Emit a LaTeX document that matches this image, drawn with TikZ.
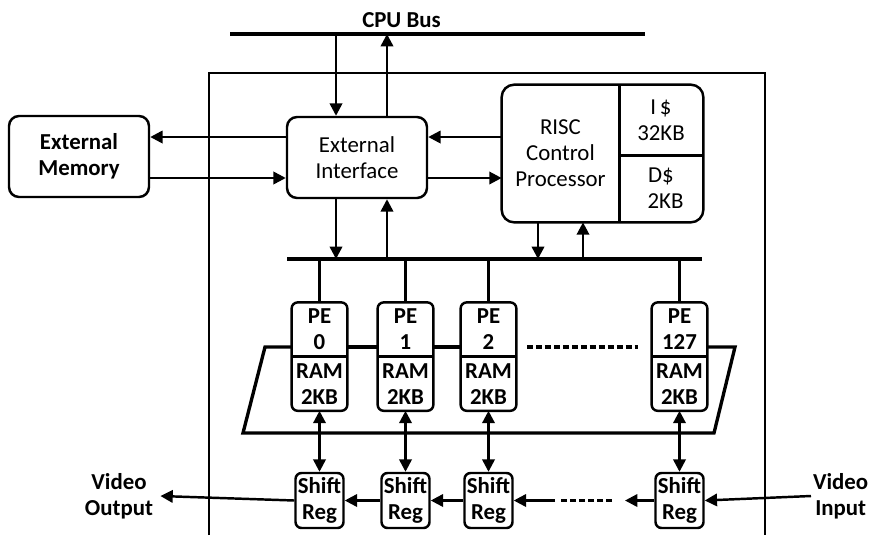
\documentclass[tikz,border=0pt]{standalone}
\usepackage{fontspec}
\setmainfont{Carlito}
\usetikzlibrary{positioning, arrows.meta}

\begin{document}
\begin{tikzpicture}[
    x=0.02cm, y=-0.02cm,
    txt/.style={font=\fontsize{13}{14.8}\selectfont, align=center, inner sep=1pt},
    btxt/.style={txt, font=\fontsize{13}{14.8}\selectfont\bfseries},
    blk/.style={draw, line width=1.4pt, rounded corners=0.2cm,
                minimum width=2.8cm, minimum height=1.62cm},
    pepart/.style={btxt, minimum width=1.1cm, minimum height=1.07cm},
    srg/.style={btxt, draw, line width=1.4pt, rounded corners=0.12cm,
                minimum width=0.96cm, minimum height=1.1cm},
    outl/.style={line width=1.4pt, rounded corners=0.12cm},
    arr/.style={-{Triangle[length=7pt, width=7pt]}, line width=1.4pt},
    darr/.style={{Triangle[length=7pt, width=7pt]}-{Triangle[length=7pt, width=7pt]}, line width=1.4pt},
    wire/.style={line width=1.4pt},
    busln/.style={line width=1.9pt},
    trap/.style={line width=1.9pt},
    dashln/.style={line width=1.9pt, dash pattern=on 3.4pt off 1.7pt},
]
\useasboundingbox (0,0) rectangle (869,535);

% ===== CHIP OUTLINE =====
\draw[line width=1.2pt] (209,535) -- (209,73) -- (765,73) -- (765,535);

% ===== CPU BUS =====
\coordinate (cpuL) at (230,34);
\coordinate (cpuR) at (645,34);
\draw[busln] (cpuL) -- (cpuR);
\node[btxt] (cpulbl) at (401.5,20) {CPU Bus};

% ===== MEMORY / INTERFACE =====
\node[blk, btxt] (extmem) at (79,156.5) {External\\Memory};
\node[blk, txt] (extif) at (357,157.5) {External\\Interface};

% ===== RISC CONTROL PROCESSOR =====
\node[txt, minimum width=2.34cm, minimum height=2.74cm] (risc) at (560.5,153.5) {RISC\\Control\\Processor};
\node[txt, minimum width=1.68cm, minimum height=1.4cm] (icache) at (661,120) {I\,\$\\32KB};
\node[txt, minimum width=1.68cm, minimum height=1.34cm] (dcache) at (661,188.5) {D\$\\\hspace*{0.4em}2KB};
\draw[line width=1.4pt, rounded corners=0.25cm] (risc.north west) rectangle (dcache.south east);
\draw[line width=1.4pt] (risc.north east) -- (risc.south east);
\draw[line width=1.4pt] (icache.south west) -- (icache.south east);

% ===== INTERNAL BUS =====
\coordinate (busL) at (287,259);
\coordinate (busR) at (702,259);
\draw[busln] (busL) -- (busR);

% ===== PE ARRAY =====
\node[pepart] (pe0) at (319.5,329.5) {PE\\0};
\node[pepart, below=0pt of pe0] (ram0) {RAM\\2KB};
\node[pepart] (pe1) at (405.5,329.5) {PE\\1};
\node[pepart, below=0pt of pe1] (ram1) {RAM\\2KB};
\node[pepart] (pe2) at (488.5,329.5) {PE\\2};
\node[pepart, below=0pt of pe2] (ram2) {RAM\\2KB};
\node[pepart] (pe127) at (679.5,329.5) {PE\\127};
\node[pepart, below=0pt of pe127] (ram127) {RAM\\2KB};

\foreach \i in {0,1,2,127} {
    \draw[outl] (pe\i.north west) rectangle (ram\i.south east);
    \draw[wire] (pe\i.south west) -- (pe\i.south east);
    \draw[wire] (pe\i.north |- busL) -- (pe\i.north);
}

% parallelogram round the array
\coordinate (trapTL) at (265,347);
\coordinate (trapBL) at (243,433);
\coordinate (trapBR) at (714,433);
\coordinate (trapTR) at (735,347);
\draw[trap] (pe0.west |- trapTL) -- (trapTL) -- (trapBL) -- (trapBR) -- (trapTR) -- (pe127.east |- trapTR);
\draw[trap] (pe0.east |- trapTL) -- (pe1.west |- trapTL);
\draw[trap] (pe1.east |- trapTL) -- (pe2.west |- trapTL);
\coordinate (peDashL) at (527,347);
\coordinate (peDashR) at (638,347);
\draw[dashln] (peDashL) -- (peDashR);

% ===== SHIFT REGISTERS =====
\coordinate (srrow) at (0,500.5);
\node[srg] (sr0) at (pe0 |- srrow) {Shift\\Reg};
\node[srg] (sr1) at (pe1 |- srrow) {Shift\\Reg};
\node[srg] (sr2) at (pe2 |- srrow) {Shift\\Reg};
\node[srg] (sr127) at (pe127 |- srrow) {Shift\\Reg};

\foreach \i in {0,1,2,127} {
    \draw[darr] (ram\i.south) -- (sr\i.north);
}

\node[btxt] (vout) at (119,496) {Video\\Output};
\node[btxt, anchor=west] (vin) at (811,496) {Video\\Input};

\coordinate (gapR) at (625,500.5);
\coordinate (dashR) at (612,500.5);
\coordinate (dashL) at (560,500.5);
\coordinate (gapL) at (555,500.5);
\draw[arr] (vin.west) -- (sr127.east);
\draw[arr] (sr127.west) -- (gapR);
\draw[dashln] (dashR) -- (dashL);
\draw[arr] (gapL) -- (sr2.east);
\draw[arr] (sr2.west) -- (sr1.east);
\draw[arr] (sr1.west) -- (sr0.east);
\draw[arr] (sr0.west) -- ([xshift=3pt]vout.east);

% ===== CONNECTIONS =====
% CPU bus <-> interface
\draw[arr] ([xshift=-0.42cm]extif.north |- cpuL) -- ([xshift=-0.42cm]extif.north);
\draw[arr] ([xshift=0.6cm]extif.north) -- ([xshift=0.6cm]extif.north |- cpuL);
% interface <-> internal bus
\draw[arr] ([xshift=-0.42cm]extif.south) -- ([xshift=-0.42cm]extif.south |- busL);
\draw[arr] ([xshift=0.6cm]extif.south |- busL) -- ([xshift=0.6cm]extif.south);
% interface <-> external memory
\draw[arr] ([yshift=0.41cm]extif.west) -- ([yshift=0.41cm]extif.west -| extmem.east);
\draw[arr] ([yshift=-0.41cm]extif.west -| extmem.east) -- ([yshift=-0.41cm]extif.west);
% interface <-> RISC
\draw[arr] ([yshift=0.41cm]extif.east -| risc.west) -- ([yshift=0.41cm]extif.east);
\draw[arr] ([yshift=-0.41cm]extif.east) -- ([yshift=-0.41cm]extif.east -| risc.west);
% RISC <-> internal bus
\draw[arr] ([xshift=-0.45cm]risc.south) -- ([xshift=-0.45cm]risc.south |- busL);
\draw[arr] ([xshift=0.45cm]risc.south |- busL) -- ([xshift=0.45cm]risc.south);

\end{tikzpicture}
\end{document}
